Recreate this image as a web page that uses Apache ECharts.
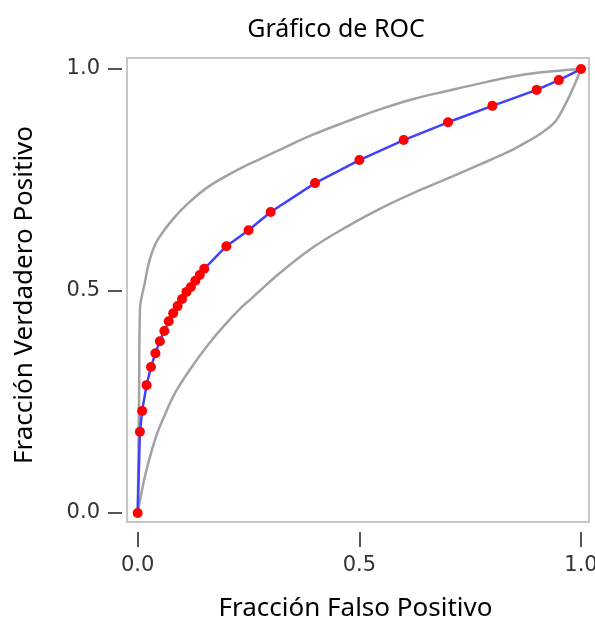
<!DOCTYPE html>
<html>
<head>
<meta charset="utf-8">
<script src="https://cdn.jsdelivr.net/npm/echarts@6/dist/echarts.min.js"></script>
<style>
  html, body { margin: 0; padding: 0; background: #fff; }
  #chart { width: 595px; height: 621px; }
</style>
</head>
<body>
<div id="chart"></div>
<script>
// ROC curve points (false positive fraction, true positive fraction)
const rocX = [0, 0.005, 0.01, 0.02, 0.03, 0.04, 0.05, 0.06, 0.07, 0.08, 0.09, 0.10, 0.11, 0.12, 0.13, 0.14, 0.15, 0.20, 0.25, 0.30, 0.40, 0.50, 0.60, 0.70, 0.80, 0.90, 0.95, 1.0]
const rocY = [0, 0.183, 0.23, 0.288, 0.329, 0.36, 0.387, 0.41, 0.432, 0.45, 0.466, 0.482, 0.498, 0.509, 0.523, 0.536, 0.55, 0.601, 0.637, 0.678, 0.743, 0.795, 0.84, 0.88, 0.917, 0.953, 0.975, 1.0]

// confidence band, upper edge
const upperX = [0, 0.003, 0.005, 0.016, 0.027, 0.045, 0.084, 0.122, 0.158, 0.196, 0.235, 0.271, 0.32, 0.395, 0.472, 0.546, 0.62, 0.70, 0.788, 0.862, 0.937, 1.0]
const upperY = [0, 0.25, 0.457, 0.518, 0.57, 0.615, 0.667, 0.705, 0.734, 0.757, 0.778, 0.795, 0.818, 0.852, 0.882, 0.909, 0.932, 0.951, 0.971, 0.986, 0.995, 1.0]

// confidence band, lower edge
const lowerX = [0, 0.016, 0.032, 0.045, 0.06, 0.084, 0.122, 0.158, 0.196, 0.235, 0.253, 0.32, 0.395, 0.472, 0.546, 0.62, 0.698, 0.772, 0.833, 0.862, 0.914, 0.948, 1.0]
const lowerY = [0, 0.081, 0.142, 0.182, 0.218, 0.27, 0.329, 0.378, 0.423, 0.464, 0.48, 0.54, 0.598, 0.645, 0.685, 0.72, 0.753, 0.785, 0.812, 0.827, 0.858, 0.89, 1.0]

const tickValues = [0, 0.5, 1.0]

const zip = (xs, ys) => xs.map((x, i) => [x, ys[i]])

const chart = echarts.init(document.getElementById('chart'), null, {renderer: 'canvas'})

const tickFont = {fontFamily: 'DejaVu Sans', fontSize: 21, color: '#333'}
const nameFont = {fontFamily: 'Noto Sans', fontSize: 26, color: '#000'}

const option = {
    animation: false,
    backgroundColor: '#fff',
    title: {
        text: 'Gráfico de ROC',
        left: 331,
        top: 12,
        textAlign: 'center',
        textStyle: {fontFamily: 'Noto Sans', fontSize: 25, fontWeight: 'normal', color: '#000'}
    },
    grid: [
        // grid 0 carries the axes; its edges are where the detached ticks sit
        {left: 122, top: 58, right: 6, bottom: 89, outerBoundsMode: 'none', containLabel: false, show: false},
        // grid 1 only draws the grey frame round the plot
        {left: 127, top: 58, right: 6, bottom: 99, outerBoundsMode: 'none', containLabel: false,
            show: true, borderColor: '#c6c6c6', borderWidth: 2, backgroundColor: 'transparent'}
    ],
    xAxis: [
        {
            type: 'value',
            gridIndex: 0,
            min: -0.0354, max: 1.018,
            name: 'Fracción Falso Positivo',
            nameLocation: 'middle',
            nameGap: 64,
            nameTextStyle: nameFont,
            axisLine: {show: false, onZero: false},
            splitLine: {show: false},
            axisTick: {show: true, inside: false, length: 15, customValues: tickValues, lineStyle: {color: '#555', width: 2}},
            axisLabel: {show: true, margin: 23, customValues: tickValues, formatter: v => v.toFixed(1), ...tickFont}
        },
        {type: 'value', gridIndex: 1, show: false, min: 0, max: 1}
    ],
    yAxis: [
        {
            type: 'value',
            gridIndex: 0,
            min: -0.0428, max: 1.0248,
            name: 'Fracción Verdadero Positivo',
            nameLocation: 'middle',
            nameGap: 84,
            nameTextStyle: nameFont,
            axisLine: {show: false, onZero: false},
            splitLine: {show: false},
            axisTick: {show: true, inside: false, length: 14, customValues: tickValues, lineStyle: {color: '#555', width: 2}},
            axisLabel: {show: true, margin: 22, customValues: tickValues, formatter: v => v.toFixed(1), ...tickFont}
        },
        {type: 'value', gridIndex: 1, show: false, min: 0, max: 1}
    ],
    series: [
        {
            name: 'Upper',
            type: 'line',
            data: zip(upperX, upperY),
            showSymbol: false,
            smooth: 0.4,
            lineStyle: {color: '#a2a2a2', width: 2.5},
            silent: true
        },
        {
            name: 'Lower',
            type: 'line',
            data: zip(lowerX, lowerY),
            showSymbol: false,
            smooth: 0.4,
            lineStyle: {color: '#a2a2a2', width: 2.5},
            silent: true
        },
        {
            name: 'ROC',
            type: 'line',
            data: zip(rocX, rocY),
            symbol: 'circle',
            symbolSize: 10,
            showAllSymbol: true,
            lineStyle: {color: '#4040ff', width: 2.5},
            itemStyle: {color: '#ff0000', borderWidth: 0},
            clip: false,
            silent: true,
            z: 5
        }
    ]
}

chart.setOption(option)
</script>
</body>
</html>
